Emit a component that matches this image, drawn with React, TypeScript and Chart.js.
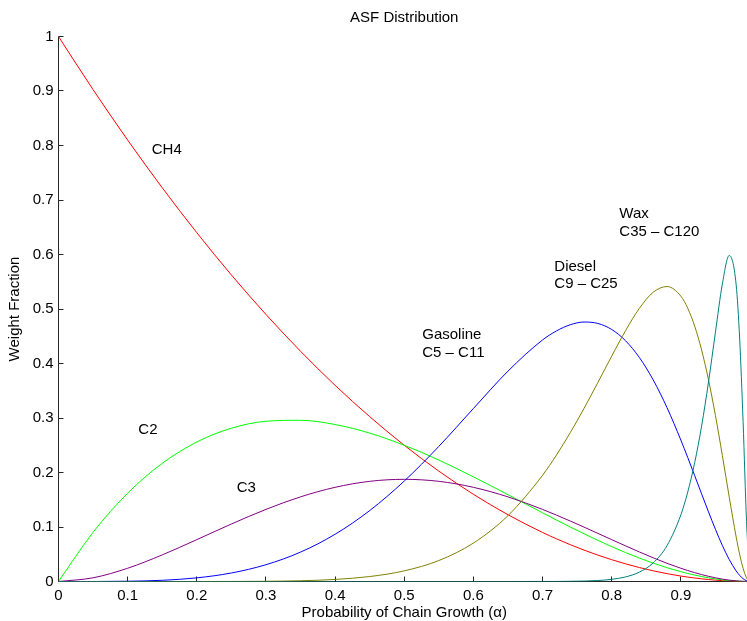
import React, { useEffect, useRef } from 'react';
import { Chart, registerables } from 'chart.js';

Chart.register(...registerables);

// Probability of chain growth (x values)
const alpha = [0, 0.05, 0.1, 0.15, 0.2, 0.25, 0.3, 0.35, 0.4, 0.45, 0.5, 0.55, 0.6, 0.65, 0.7, 0.72, 0.74, 0.76, 0.78, 0.8, 0.82, 0.84, 0.86, 0.88, 0.9, 0.91, 0.92, 0.93, 0.94, 0.95, 0.96, 0.97, 0.98, 0.985, 0.99, 0.995, 1];

// Weight fractions
const ch4 = [1, 0.9025, 0.81, 0.7225, 0.64, 0.5625, 0.49, 0.4225, 0.36, 0.3025, 0.25, 0.2025, 0.16, 0.1225, 0.09, 0.0784, 0.0676, 0.0576, 0.0484, 0.04, 0.0324, 0.0256, 0.0196, 0.0144, 0.01, 0.0081, 0.0064, 0.0049, 0.0036, 0.0025, 0.0016, 0.0009, 0.0004, 0.0002, 0.0001, 0.0, 0];
const c2 = [0, 0.0903, 0.162, 0.2168, 0.256, 0.2813, 0.294, 0.2958, 0.288, 0.2723, 0.25, 0.2228, 0.192, 0.1593, 0.126, 0.1129, 0.1, 0.0876, 0.0755, 0.064, 0.0531, 0.043, 0.0337, 0.0253, 0.018, 0.0147, 0.0118, 0.0091, 0.0068, 0.0048, 0.0031, 0.0017, 0.0008, 0.0004, 0.0002, 0.0001, 0];
const c3 = [0, 0.0068, 0.0243, 0.0488, 0.0768, 0.1055, 0.1323, 0.1553, 0.1728, 0.1838, 0.1875, 0.1838, 0.1728, 0.1553, 0.1323, 0.1219, 0.111, 0.0998, 0.0883, 0.0768, 0.0654, 0.0542, 0.0435, 0.0334, 0.0243, 0.0201, 0.0163, 0.0127, 0.0095, 0.0068, 0.0044, 0.0025, 0.0012, 0.0007, 0.0003, 0.0001, 0];
const gasoline = [0, 0, 0.0005, 0.0022, 0.0067, 0.0156, 0.0308, 0.0539, 0.0867, 0.1301, 0.1843, 0.2479, 0.3174, 0.386, 0.4432, 0.4597, 0.4711, 0.4761, 0.4735, 0.4624, 0.4418, 0.411, 0.3699, 0.319, 0.2595, 0.2274, 0.1943, 0.1608, 0.1277, 0.0958, 0.0662, 0.0402, 0.0193, 0.0113, 0.0052, 0.0014, 0];
const diesel = [0, 0, 0, 0, 0, 0.0001, 0.0004, 0.0014, 0.0038, 0.0091, 0.0195, 0.0385, 0.0705, 0.1209, 0.1949, 0.2318, 0.2729, 0.3177, 0.3651, 0.4135, 0.4602, 0.5012, 0.5307, 0.5412, 0.5236, 0.5013, 0.4686, 0.4248, 0.3699, 0.3047, 0.2314, 0.1546, 0.0817, 0.0501, 0.0243, 0.0066, 0];
const wax = [0, 0, 0, 0, 0, 0, 0, 0, 0, 0, 0, 0, 0, 0, 0.0001, 0.0001, 0.0004, 0.0008, 0.0018, 0.004, 0.0084, 0.0172, 0.0341, 0.0658, 0.1223, 0.1643, 0.218, 0.2851, 0.366, 0.4572, 0.5458, 0.5982, 0.5442, 0.4467, 0.2935, 0.1099, 0];

const seriesNames = ['CH4', 'C2', 'C3', 'Gasoline', 'Diesel', 'Wax'];
const seriesColors = ['#ff0000', '#00ff00', '#800080', '#0000ff', '#808000', '#008080'];

const xTickLabels = ['0', '0.1', '0.2', '0.3', '0.4', '0.5', '0.6', '0.7', '0.8', '0.9'];
const yTickLabels = ['0', '0.1', '0.2', '0.3', '0.4', '0.5', '0.6', '0.7', '0.8', '0.9', '1'];

// Text annotations placed in data units
const annotationTexts = ['CH4', 'C2', 'C3', 'Gasoline', 'C5 – C11', 'Diesel', 'C9 – C25', 'Wax', 'C35 – C120'];
const annotationX = [0.1348, 0.1154, 0.2577, 0.526, 0.526, 0.717, 0.717, 0.811, 0.811];
const annotationY = [0.792, 0.278, 0.172, 0.452, 0.42, 0.578, 0.547, 0.674, 0.642];

const FONT = '"Liberation Sans", Arial, Helvetica, sans-serif';
const AXIS_COLOR = '#262626';

export default function App() {
  const ref = useRef<HTMLCanvasElement>(null);

  useEffect(() => {
    const canvas = ref.current;
    if (!canvas) return;
    const seriesValues = [ch4, c2, c3, gasoline, diesel, wax];
    const datasets = seriesValues.map((vals, k) => ({
      label: seriesNames[k],
      data: alpha.map((a, i) => ({ x: a, y: vals[i] })),
      borderColor: seriesColors[k],
      backgroundColor: seriesColors[k],
      borderWidth: 1,
      pointRadius: 0,
      fill: false,
      cubicInterpolationMode: 'monotone' as const,
      order: seriesValues.length - k,
    }));

    const snap = (v: number) => Math.round(v - 0.5) + 0.5;

    const matlabAxes = {
      id: 'matlabAxes',
      beforeDatasetsDraw(chart: any) {
        const { ctx, chartArea: a, scales } = chart;
        const x = scales.x;
        const y = scales.y;
        ctx.save();
        ctx.strokeStyle = AXIS_COLOR;
        ctx.lineWidth = 1;
        ctx.beginPath();
        ctx.moveTo(a.left, a.top);
        ctx.lineTo(a.left, a.bottom);
        ctx.lineTo(a.right, a.bottom);
        x.ticks.forEach((t: any) => {
          const px = snap(x.getPixelForValue(t.value));
          ctx.moveTo(px, a.bottom);
          ctx.lineTo(px, a.bottom - 5);
        });
        y.ticks.forEach((t: any) => {
          const py = snap(y.getPixelForValue(t.value));
          ctx.moveTo(a.left, py);
          ctx.lineTo(a.left + 5, py);
        });
        ctx.stroke();
        ctx.restore();
      },
      afterDatasetsDraw(chart: any) {
        const { ctx, scales } = chart;
        ctx.save();
        ctx.fillStyle = '#000';
        ctx.font = `15px ${FONT}`;
        ctx.textAlign = 'left';
        ctx.textBaseline = 'middle';
        annotationTexts.forEach((txt, i) => {
          ctx.fillText(txt, scales.x.getPixelForValue(annotationX[i]), scales.y.getPixelForValue(annotationY[i]));
        });
        ctx.restore();
      },
    };

    const chart = new Chart(canvas, {
      type: 'line',
      data: { datasets },
      plugins: [matlabAxes],
      options: {
        responsive: false,
        animation: false,
        devicePixelRatio: 1,
        layout: { padding: 0 },
        plugins: {
          legend: { display: false },
          tooltip: { enabled: false },
          title: {
            display: true,
            fullSize: false,
            text: 'ASF Distribution',
            color: '#000',
            font: { family: FONT, size: 15, weight: 'normal', lineHeight: 1.2 },
            padding: { top: 9, bottom: 9.5 },
          },
        },
        scales: {
          x: {
            type: 'linear',
            min: 0,
            max: 1,
            grid: { display: false, drawTicks: false },
            border: { display: false },
            ticks: {
              stepSize: 0.1,
              padding: 5.5,
              color: '#000',
              font: { family: FONT, size: 15 },
              maxRotation: 0,
              autoSkip: false,
              callback: (_v: any, i: number) => xTickLabels[i] ?? '',
            },
            title: {
              display: true,
              text: 'Probability of Chain Growth (α)',
              color: '#000',
              font: { family: FONT, size: 15, lineHeight: 1 },
              padding: { top: 0, bottom: 0.5 },
            },
            afterFit: (s: any) => {
              s.height = 39.5;
              s.paddingLeft = 0;
              s.paddingRight = 0;
            },
          },
          y: {
            type: 'linear',
            min: 0,
            max: 1,
            grid: { display: false, drawTicks: false },
            border: { display: false },
            ticks: {
              stepSize: 0.1,
              padding: 5,
              color: '#000',
              font: { family: FONT, size: 15 },
              autoSkip: false,
              callback: (_v: any, i: number) => yTickLabels[i] ?? '',
            },
            title: {
              display: true,
              text: 'Weight Fraction',
              color: '#000',
              font: { family: FONT, size: 15, lineHeight: 1 },
              padding: { top: 7.5, bottom: 0 },
            },
            afterFit: (s: any) => {
              s.width = 58.5;
              s.paddingTop = 0;
              s.paddingBottom = 0;
            },
          },
        },
      } as any,
    });

    return () => chart.destroy();
  }, []);

  return (
    <div style={{ position: 'fixed', left: 0, top: 0, width: 747, height: 621, overflow: 'hidden', background: '#fff' }}>
      <canvas ref={ref} width={750} height={621} style={{ display: 'block' }} />
    </div>
  );
}
